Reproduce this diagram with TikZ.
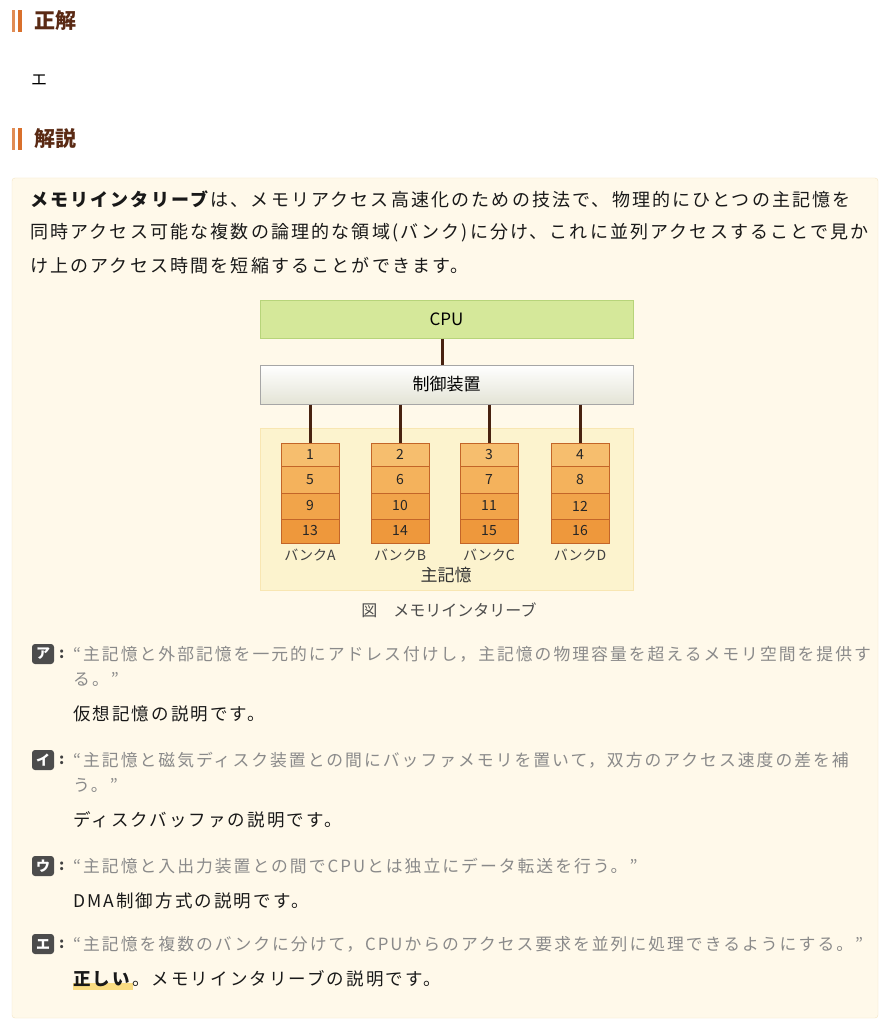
\documentclass[tikz,border=0pt]{standalone}
\usepackage{fontspec}
\setmainfont{Noto Sans CJK JP}
\newfontfamily\jp[LetterSpace=12]{Noto Sans CJK JP}
\newfontfamily\jpq[LetterSpace=12]{Noto Sans CJK JP}
\definecolor{brn}{HTML}{5A2A14}
\definecolor{org}{HTML}{D9702C}
\definecolor{bg}{HTML}{FFF9EA}
\definecolor{bgb}{HTML}{F3E6C4}
\definecolor{qg}{HTML}{8A8A8A}
\definecolor{cpuf}{RGB}{213,232,154}
\definecolor{cpud}{RGB}{183,212,122}
\definecolor{ctlb}{RGB}{228,228,214}
\definecolor{mmf}{RGB}{252,243,206}
\definecolor{mmd}{RGB}{248,230,178}
\definecolor{ca}{RGB}{246,190,110}
\definecolor{cb}{RGB}{244,178,92}
\definecolor{cc}{RGB}{241,164,74}
\definecolor{cd}{RGB}{238,152,60}
\definecolor{hl}{RGB}{250,220,130}
\tikzset{
 t/.style={anchor=west,inner sep=0pt},
 head/.style={t,font=\fontsize{21}{21}\selectfont\bfseries,text=brn},
 para/.style={t,font=\jp\fontsize{18}{18}\selectfont,text=black!90},
 quote/.style={t,font=\jpq\fontsize{16.8}{16}\selectfont,text=qg},
 expl/.style={t,font=\jp\fontsize{17.5}{17}\selectfont,text=black!90},
 badge/.style={fill=black!70,rounded corners=3pt,text=white,minimum width=22pt,minimum height=20pt,inner sep=0pt,font=\fontsize{14}{14}\selectfont\bfseries},
 cell/.style={draw=org!90!black,line width=0.8pt,minimum width=58pt,inner sep=0pt,font=\fontsize{14}{14}\selectfont,text=black!85},
 link/.style={draw=brn!80!black,line width=3pt},
 blab/.style={inner sep=0pt,font=\fontsize{14}{14}\selectfont,text=black!75}
}
\begin{document}
\begin{tikzpicture}[x=1pt,y=-1pt]
\fill[white] (0,0) rectangle (885,1024);
\useasboundingbox (0,0) rectangle (885,1024);
\foreach \y in {21,139}{
 \fill[org!80] (12,\y-11) rectangle (15,\y+11);
 \fill[org] (18,\y-11) rectangle (22,\y+11);
}
\node[head] (h1) at (34,21) {正解};
\node[t,font=\fontsize{16}{16}\selectfont] (ans) at (31,80) {エ};
\node[head] (h2) at (34,139) {解説};
\draw[bgb,fill=bg,rounded corners=3pt] (12,178) rectangle (878,1018);
\node[para] (p1) at (30,199) {\textbf{メモリインタリーブ}は、メモリアクセス高速化のための技法で、物理的にひとつの主記憶を};
\node[para] (p2) at (30,233) {同時アクセス可能な複数の論理的な領域(バンク)に分け、これに並列アクセスすることで見か};
\node[para] (p3) at (30,266) {け上のアクセス時間を短縮することができます。};
\node[draw=cpud,fill=cpuf,line width=1pt,minimum width=373pt,minimum height=38pt,font=\fontsize{17}{17}\selectfont] (cpu) at (446.5,319) {CPU};
\node[draw=black!35,top color=white,bottom color=ctlb,line width=1pt,minimum width=373pt,minimum height=39pt,font=\fontsize{17}{17}\selectfont] (ctl) at (446.5,384.5) {制御装置};
\draw[mmd,fill=mmf,line width=1pt] (260,428) rectangle (633,590);
\draw[link] (cpu.south -| 442,0) -- (ctl.north -| 442,0);
\foreach \x/\L/\a/\b/\c/\d in {310/A/1/5/9/13, 400/B/2/6/10/14, 489/C/3/7/11/15, 580/D/4/8/12/16}{
 \node[cell,minimum height=23pt,fill=ca] (c\L1) at (\x,454.5) {\a};
 \node[cell,minimum height=27pt,fill=cb] (c\L2) at (\x,479.5) {\b};
 \node[cell,minimum height=26pt,fill=cc] (c\L3) at (\x,506) {\c};
 \node[cell,minimum height=24pt,fill=cd] (c\L4) at (\x,531) {\d};
 \node[blab] (l\L) at (\x,555) {バンク\L};
 \draw[link] (ctl.south -| c\L1.north) -- (c\L1.north);
}
\node[inner sep=0pt,font=\fontsize{17}{17}\selectfont,text=black!80] (mm) at (446,575) {主記憶};
\node[inner sep=0pt,font=\fontsize{16}{16}\selectfont,text=black!70] (cap) at (449,610) {図　メモリインタリーブ};
\foreach \y/\k in {654/ア,760/イ,866/ウ,944/エ}{
 \node[badge] (b\k) at (43,\y) {\k};
 \node[t,font=\bfseries\fontsize{15}{15}\selectfont,text=black!75] (col\k) at (59,\y) {:};
}
\node[quote] (qa1) at (73,654) {“主記憶と外部記憶を一元的にアドレス付けし，主記憶の物理容量を超えるメモリ空間を提供す};
\node[quote] (qa2) at (73,679) {る。”};
\node[expl] (ea) at (73,714) {仮想記憶の説明です。};
\node[quote] (qi1) at (73,760) {“主記憶と磁気ディスク装置との間にバッファメモリを置いて，双方のアクセス速度の差を補};
\node[quote] (qi2) at (73,785) {う。”};
\node[expl] (ei) at (73,820) {ディスクバッファの説明です。};
\node[quote] (qu1) at (73,866) {“主記憶と入出力装置との間でCPUとは独立にデータ転送を行う。”};
\node[expl] (eu) at (73,901) {DMA制御方式の説明です。};
\node[quote] (qe1) at (73,944) {“主記憶を複数のバンクに分けて，CPUからのアクセス要求を並列に処理できるようにする。”};
\fill[hl] (73,983) rectangle (133,990);
\node[expl] (ee) at (73,979) {\textbf{正しい}。メモリインタリーブの説明です。};
\end{tikzpicture}
\end{document}
